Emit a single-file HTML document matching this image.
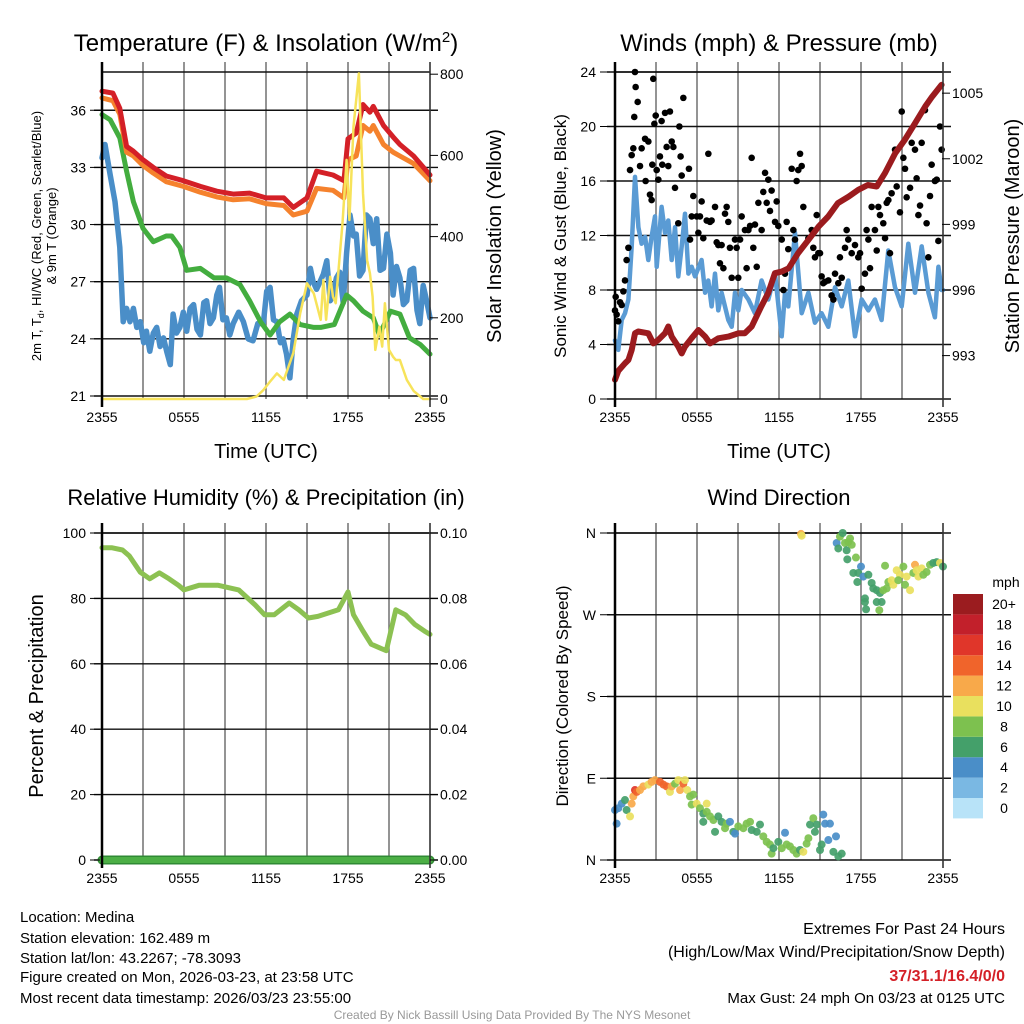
<!DOCTYPE html>
<html><head><meta charset="utf-8"><style>
body{margin:0;background:#fff;}
svg{display:block;font-family:"Liberation Sans",Arial,sans-serif;}
</style></head><body>
<svg id="chart" width="1024" height="1024" viewBox="0 0 1024 1024" xmlns="http://www.w3.org/2000/svg">
<g id="grid"></g><g id="marks"></g><g id="axes"></g><g id="labels"></g>
<text x="266" y="51" font-size="24" text-anchor="middle">Temperature (F) &amp; Insolation (W/m<tspan dy="-9" font-size="15">2</tspan><tspan dy="9">)</tspan></text>
<text x="779" y="51" font-size="24" text-anchor="middle">Winds (mph) &amp; Pressure (mb)</text>
<text x="266" y="505" font-size="22" text-anchor="middle">Relative Humidity (%) &amp; Precipitation (in)</text>
<text x="779" y="505" font-size="22" text-anchor="middle">Wind Direction</text>
<g font-size="13" text-anchor="middle">
<text transform="translate(41,236) rotate(-90)">2m T, T<tspan font-size="9" dy="3">d</tspan><tspan dy="-3">, HI/WC (Red, Green, Scarlet/Blue)</tspan></text>
<text transform="translate(56,236) rotate(-90)">&amp; 9m T (Orange)</text></g>
<text transform="translate(501,236) rotate(-90)" font-size="20" text-anchor="middle">Solar Insolation (Yellow)</text>
<text transform="translate(566,236) rotate(-90)" font-size="17" text-anchor="middle">Sonic Wind &amp; Gust (Blue, Black)</text>
<text transform="translate(1019,236) rotate(-90)" font-size="20" text-anchor="middle">Station Pressure (Maroon)</text>
<text transform="translate(43,696) rotate(-90)" font-size="20" text-anchor="middle">Percent &amp; Precipitation</text>
<text transform="translate(568,696) rotate(-90)" font-size="17" text-anchor="middle">Direction (Colored By Speed)</text>
<text x="266" y="458" font-size="20" text-anchor="middle">Time (UTC)</text>
<text x="779" y="458" font-size="20" text-anchor="middle">Time (UTC)</text>
<g font-size="15">
<text x="20" y="922">Location: Medina</text>
<text x="20" y="943">Station elevation: 162.489 m</text>
<text x="20" y="963">Station lat/lon: 43.2267; -78.3093</text>
<text x="20" y="982">Figure created on Mon, 2026-03-23, at 23:58 UTC</text>
<text x="20" y="1003">Most recent data timestamp: 2026/03/23 23:55:00</text></g>
<g font-size="16" text-anchor="end">
<text x="1005" y="934">Extremes For Past 24 Hours</text>
<text x="1005" y="957">(High/Low/Max Wind/Precipitation/Snow Depth)</text>
<text x="1005" y="981" fill="#d42027" font-weight="bold">37/31.1/16.4/0/0</text>
<text x="1005" y="1003" font-size="15">Max Gust: 24 mph On 03/23 at 0125 UTC</text></g>
<text x="512" y="1019" font-size="12" fill="#999" text-anchor="middle">Created By Nick Bassill Using Data Provided By The NYS Mesonet</text>
</svg>
<script>
// ---- Panel 1 data ----
const tempHours=[0,0.8,1.3,1.8,2.3,3.0,3.75,4.7,5.95,7.2,8.4,9.6,10.8,12.0,13.3,14.0,15.0,15.7,16.9,17.7,18.0,18.6,19.1,19.6,19.85,20.6,21.3,21.8,22.8,24];
const tempRed=[37.0,36.9,36.1,34.1,33.85,33.4,33.0,32.55,32.3,32.0,31.75,31.6,31.65,31.4,31.4,30.9,31.4,32.8,32.6,32.3,34.5,34.8,36.3,35.9,36.2,35.2,34.6,34.2,33.6,32.6];
const temp9m=[36.65,36.5,35.8,33.8,33.6,33.1,32.7,32.25,32.0,31.7,31.45,31.3,31.35,31.1,31.0,30.5,30.7,31.9,31.8,31.4,33.4,33.6,35.2,34.9,35.2,34.2,33.8,33.6,33.2,32.3];
const hiHours=[0,0.6,1.3,1.8,2.3,3.0,3.75,4.7,5.1,5.7,6.2,7.2,8.2,9.1,10.1,10.8,11.6,12.3,13.0,13.75,14.5,15.5,16.0,17.0,17.9,18.4,19.1,19.85,20.3,21.1,21.8,22.5,23.3,24];
const hiwc=[35.77,35.5,34.55,32.8,31.2,29.8,29.1,29.4,29.4,28.8,27.6,27.7,27.2,27.2,26.85,26.0,24.9,24.2,24.9,25.3,24.75,24.6,24.6,24.75,26.3,26.0,25.45,25.1,24.2,25.45,25.3,24.05,23.7,23.2];
const dewHours=[0,0.22,0.6,0.95,1.3,1.55,1.8,2.05,2.3,2.55,2.8,3.05,3.25,3.5,3.75,4.0,4.25,4.5,4.75,5.0,5.2,5.45,5.7,5.95,6.2,6.45,6.7,6.95,7.2,7.45,7.65,7.9,8.15,8.4,8.6,8.85,9.1,9.35,9.6,10.0,10.35,10.7,11.05,11.4,11.8,12.05,12.3,12.55,12.8,13.05,13.25,13.5,13.75,14.0,14.25,14.6,15.0,15.25,15.45,15.7,15.95,16.2,16.45,16.7,16.9,17.15,17.4,17.65,17.9,18.15,18.4,18.6,18.85,19.1,19.35,19.6,19.85,20.1,20.35,20.6,20.85,21.1,21.3,21.55,21.8,22.05,22.3,22.55,22.8,23.05,23.25,23.5,23.75,24];
const dewVals=[33.5,34.2,32.6,31.2,28.8,24.9,25.6,24.9,25.6,24.6,24.9,23.8,24.4,23.35,24.3,24.6,23.6,24.05,23.3,22.65,25.3,24.3,24.6,25.4,24.4,25.6,25.8,24.5,24.2,25.9,26.0,24.8,25.1,26.3,26.7,25.0,25.1,24.2,24.8,25.4,24.9,24.0,23.9,24.8,24.8,26.5,26.7,25.0,24.9,23.8,24.0,23.2,21.95,24.0,25.3,26.0,26.3,27.7,27.0,26.6,27.0,27.4,28.1,26.0,26.3,27.2,27.5,25.9,28.5,30.5,29.4,29.5,27.3,27.6,30.5,30.3,29.0,30.3,27.6,27.7,29.5,28.5,26.3,27.8,27.2,25.8,26.0,27.6,27.7,25.5,24.8,26.8,26.0,25.1];
const solarHours=[0,10.6,11.3,11.8,12.3,12.8,13.3,14.0,14.5,15.0,15.5,16.0,16.2,16.4,16.7,16.9,17.1,17.6,17.9,18.1,18.4,18.8,19.1,19.4,19.6,19.8,20.0,20.3,20.5,20.7,21.0,21.3,21.5,21.8,22.3,22.8,23.5,24];
const solarVals=[0,0,6,22,43,63,47,113,211,285,260,195,293,195,301,252,236,433,589,441,671,802,507,342,310,252,121,178,129,236,121,104,96,96,47,20,0,0];
// ---- Panel 2 data ----
const windHours=[0,0.24,0.49,0.73,0.98,1.22,1.46,1.71,1.95,2.2,2.44,2.68,2.93,3.05,3.41,3.66,3.9,4.15,4.39,4.63,4.88,5.12,5.37,5.61,5.85,6.34,6.59,6.83,7.07,7.32,7.56,7.8,8.29,8.54,8.78,9.02,9.27,9.76,10.24,10.73,11.22,11.71,12.2,12.44,12.68,13.17,13.66,14.15,14.63,15.12,15.61,16.1,16.59,17.07,17.56,18.05,18.54,19.02,19.51,20.0,20.49,20.98,21.46,21.95,22.44,22.93,23.41,23.66,23.9,24];
const windVals=[4.3,3.6,5.8,6.3,7.3,11.2,16.3,12.6,11.4,11.9,10.2,11.9,13.4,9.7,14.1,12.2,13.1,10.2,12.6,9.0,11.2,13.6,9.2,9.7,9.0,10.2,7.8,8.7,6.8,9.2,6.5,7.8,5.8,5.3,7.8,6.5,8.0,7.3,6.3,8.7,7.3,9.2,4.6,7.8,6.8,12.2,6.3,7.8,5.6,6.3,5.3,8.2,6.8,8.7,4.6,7.3,6.5,7.3,5.8,10.9,8.2,6.8,11.4,7.8,11.2,7.8,6.0,9.7,8.0,8.0];
const presHours=[0,0.24,0.73,0.98,1.22,1.46,1.7,2.44,2.8,3.17,3.66,3.9,4.15,4.63,4.88,5.12,5.6,6.1,6.6,6.95,7.56,8.3,9.02,9.5,10.0,10.7,11.2,11.7,12.2,12.7,13.4,14.15,14.9,15.6,16.3,17.1,17.8,18.5,19.15,19.75,20.5,21.2,21.95,22.7,23.2,23.9];
const presVals=[991.9,992.3,992.65,992.8,993.26,994.02,994.1,994.02,993.56,993.72,994.02,994.33,993.87,993.41,993.1,993.41,993.79,994.17,993.87,993.56,993.79,993.87,994.02,994.02,994.33,995.24,995.85,996.77,996.84,996.99,997.68,998.29,998.9,999.36,999.97,1000.27,1000.58,1000.8,1000.73,1001.34,1002.25,1002.86,1003.62,1004.39,1004.84,1005.38];
const gustHours=[0,0.05,0.12,0.24,0.37,0.49,0.61,0.73,0.85,0.98,1.1,1.22,1.34,1.41,1.46,1.51,1.66,1.83,1.95,2.2,2.24,2.44,2.56,2.68,2.73,2.8,2.88,2.98,3.05,3.17,3.29,3.41,3.46,3.66,3.78,3.9,4.02,4.15,4.27,4.39,4.63,4.71,4.8,4.88,5.0,5.41,5.49,5.61,5.73,5.98,6.1,6.22,6.34,6.46,6.71,6.83,6.95,7.07,7.32,7.44,7.56,7.68,7.8,7.93,8.05,8.17,8.29,8.41,8.54,8.78,8.9,9.02,9.15,9.27,9.51,9.63,9.76,9.88,10.0,10.12,10.24,10.37,10.49,10.73,10.85,10.98,11.1,11.22,11.34,11.46,11.71,11.83,11.95,12.2,12.32,12.44,12.56,12.68,12.93,13.05,13.17,13.29,13.41,13.54,13.66,13.78,14.15,14.39,14.51,14.63,14.76,14.88,15.0,15.12,15.24,15.37,15.61,15.85,15.98,16.1,16.34,16.46,16.59,16.83,16.95,17.07,17.32,17.56,17.8,17.93,18.05,18.29,18.41,18.54,18.66,18.78,19.02,19.15,19.27,19.39,19.63,19.76,19.88,20.0,20.12,20.24,20.49,20.61,20.85,20.98,21.1,21.22,21.34,21.59,21.71,21.95,22.07,22.2,22.32,22.44,22.68,22.8,22.93,23.05,23.17,23.41,23.54,23.66,23.78,23.9];
const gustVals=[6.5,7.5,6.2,5.7,7.1,6.9,7.9,8.7,10.2,11.1,16.8,17.9,18.4,20.7,24.0,22.9,21.8,17.1,18.4,19.1,16.0,18.9,15.0,14.6,17.2,23.5,20.2,20.8,16.8,16.1,17.8,20.4,17.2,21.0,18.5,17.1,21.1,18.9,18.5,15.5,12.9,20.0,17.8,16.4,22.1,16.9,11.7,13.4,14.9,13.4,12.2,13.4,14.5,11.8,13.1,18.0,13.0,13.1,14.1,11.5,11.3,9.96,11.3,9.6,13.6,14.1,13.0,11.1,8.9,11.7,11.1,8.9,11.7,13.4,12.4,9.6,12.4,12.7,17.7,11.1,12.8,9.7,14.4,12.4,15.2,16.6,14.4,16.1,13.8,15.3,13.0,14.5,12.7,11.7,8.0,9.2,13.0,11.0,16.9,12.4,11.7,16.0,16.8,18.0,17.1,14.1,11.8,12.4,11.1,10.4,13.5,10.7,10.7,9.0,8.5,8.6,8.7,7.6,7.3,9.2,8.5,10.4,8.9,11.1,12.4,11.7,10.7,11.3,10.4,10.7,8.1,9.2,12.4,11.7,9.6,14.1,12.4,10.9,14.1,13.5,12.9,11.8,14.4,14.6,10.7,15.1,18.3,15.6,13.7,21.1,17.7,16.9,14.8,15.5,18.8,18.3,16.2,13.5,14.2,18.8,21.2,12.9,10.4,14.9,17.2,16.0,16.1,11.6,20.0,18.3,16.6];
// ---- Panel 3 data ----
const rhHours=[0,0.7,1.5,2.0,2.8,3.5,4.2,4.9,5.6,6.0,7.1,8.5,10.0,11.2,11.9,12.6,13.7,14.4,15.1,15.8,17.3,18.0,18.4,19.1,19.7,20.8,21.5,22.2,22.9,23.6,24];
const rhVals=[95.5,95.5,94.8,93,88,86,87.8,86,84,82.6,84,84,82.6,78,75,75,78.6,76.5,74,74.5,76.5,82,75,70,66,64,76.5,75,72,70,69];
const precipHours=[0,24];
const precipVals=[0,0];
// ---- Panel 4 data ----
const dirHours=[0,0.24,0.12,0.49,0.73,0.85,1.1,1.22,1.34,1.46,1.59,1.83,2.07,2.44,2.68,2.93,3.29,3.54,3.78,4.02,4.15,4.39,4.63,4.76,5.0,5.12,5.29,5.49,5.73,5.61,5.98,6.22,6.46,6.71,6.71,6.46,6.95,7.2,7.32,7.56,7.8,8.17,8.05,8.41,8.66,8.78,9.02,9.39,9.63,9.88,10.0,10.37,10.61,10.85,11.1,11.34,11.46,11.59,11.95,12.2,12.44,12.56,12.8,13.05,13.29,13.54,13.78,14.02,14.15,14.27,14.51,14.63,14.76,15.0,15.12,15.24,15.37,15.61,15.73,15.98,16.17,16.34,16.59,
13.61,13.66,16.22,16.46,16.66,16.83,17.07,16.34,16.95,17.2,17.32,17.0,17.63,18.0,17.44,17.8,18.17,18.54,17.73,18.78,18.9,19.15,18.29,18.29,19.39,19.63,19.15,19.51,18.37,19.34,19.76,20.0,19.88,20.24,20.37,20.61,20.85,21.1,21.22,21.34,21.59,21.83,21.95,22.2,22.44,22.56,22.8,23.05,23.29,23.54,23.78,24.0,22.07,20.73];
const dirDeg=[55,57,40,62,66,55,48,62,70,77,75,77,81,83,86,88,86,83,81,75,81,84,88,77,84,88,77,70,72,61,62,57,51,62,53,42,48,44,31,48,42,40,35,42,31,29,37,35,40,42,33,31,39,26,20,17,7,13,20,13,30,17,15,11,7,11,9,18,24,39,46,31,39,11,17,50,40,22,40,9,26,4,7,
359,357,349,356,360,349,350,343,341,354,347,331,333,323,316,316,312,314,306,305,299,297,288,284,294,297,284,284,276,275,324,306,299,308,303,319,314,323,303,312,297,316,325,312,321,314,317,325,327,328,327,323,319,308];
const dirSpeed=[4,4,4,4,6,6,10,12,12,16,14,12,12,10,12,12,14,14,14,10,12,8,10,12,14,10,10,8,8,8,10,8,6,10,8,6,8,8,6,6,6,8,8,4,6,4,8,8,8,8,6,6,6,8,8,8,8,6,6,8,4,8,8,8,8,6,10,8,8,6,8,6,6,6,6,4,4,4,4,6,4,6,6,
12,10,4,8,6,8,8,6,6,8,8,6,8,4,6,6,4,6,6,6,6,6,6,6,6,8,6,6,6,8,8,8,8,10,10,10,10,8,8,10,10,8,12,10,10,8,8,8,6,6,10,6,10,8];
const speedColors=["#b8e3f8","#7ab8e3","#4a8ec8","#44a06a","#7dc14f","#e9e05e","#f8a94a","#f0642b","#e0362a","#c2202b","#9b1c1f"];
const speedLabels=["0","2","4","6","8","10","12","14","16","18","20+"];
const xTickHours=[0,6,12,18,24];
const xTickLabels=["2355","0555","1155","1755","2355"];

const NS="http://www.w3.org/2000/svg";
const G={grid:document.getElementById('grid'),marks:document.getElementById('marks'),axes:document.getElementById('axes'),labels:document.getElementById('labels')};
function mk(parent,tag,attrs){const e=document.createElementNS(NS,tag);for(const k in attrs)e.setAttribute(k,attrs[k]);parent.appendChild(e);return e;}
const P1={x0:102,x1:430,y0:72,y1:399},P2={x0:615,x1:943,y0:72,y1:399},P3={x0:102,x1:430,y0:533,y1:860},P4={x0:615,x1:943,y0:533,y1:860};
function xs(P,h){return P.x0+h*(P.x1-P.x0)/24;}
const y1L=v=>396-(v-21)*19.05, y1R=w=>399-w*0.406;
const y2L=v=>399-v*13.625, y2R=p=>355.6-(p-993)*21.87;
const y3L=v=>860-v*3.27, y3R=v=>860-v*3270;
const y4=d=>860-d/360*327;

function panelFrame(P,name,hLines){
  for(let k=1;k<8;k++){const x=xs(P,k*3);
    const l=mk(G.grid,'line',{x1:x,x2:x,y1:P.y0-10,y2:P.y1,stroke:'#666','stroke-width':1.4});
    
    }
  hLines.forEach(y=>{const l=mk(G.grid,'line',{x1:P.x0-8,x2:P.x1+8,y1:y,y2:y,stroke:'#111','stroke-width':1.4});
    
    });
  const top=mk(G.grid,'line',{x1:P.x0,x2:P.x1,y1:P.y0,y2:P.y0,stroke:'#111','stroke-width':1.4});
  
  
  const ax=mk(G.axes,'line',{x1:P.x0,x2:P.x0,y1:P.y0-10,y2:P.y1+8,stroke:'#000','stroke-width':2.5});
  
  
  const ax2=mk(G.axes,'line',{x1:P.x1,x2:P.x1,y1:P.y0-10,y2:P.y1+8,stroke:'#333','stroke-width':1.6});
  
  
  xTickHours.forEach((h,i)=>{const t=mk(G.labels,'text',{x:xs(P,h),y:P.y1+23,'font-size':14,'text-anchor':'middle'});t.textContent=xTickLabels[i];
    
    });
}
function yLabels(vals,fn,x,anchor,name,fmt){vals.forEach(v=>{const y=fn(v);
  const t=mk(G.labels,'text',{x:x,y:y+5,'font-size':14,'text-anchor':anchor});t.textContent=fmt?fmt(v):v;
  
  
  const tk=mk(G.axes,'line',{x1:anchor==='end'?x+4:x-10,x2:anchor==='end'?x+14:x-2,y1:y,y2:y,stroke:'#000','stroke-width':1});
  
  });}
function path(P,hours,vals,fn,color,w,name,parent){let d='';hours.forEach((h,i)=>{d+=(i?'L':'M')+xs(P,h).toFixed(1)+','+fn(vals[i]).toFixed(1);});
  const p=mk(parent||G.marks,'path',{d:d,fill:'none',stroke:color,'stroke-width':w,'stroke-linejoin':'round','stroke-linecap':'round'});
  
  return p;}

// Panel 1
const t1=[36,33,30,27,24,21];
panelFrame(P1,'temperature-panel',t1.map(y1L));
yLabels(t1,y1L,86,'end','temperature-y-tick-label');
yLabels([0,200,400,600,800],y1R,440,'start','insolation-y-tick-label');
path(P1,dewHours,dewVals,y1L,'#4a8ec8',5.5,'dewpoint-line');
path(P1,hiHours,hiwc,y1L,'#43ad3f',5,'heat-index-line');
path(P1,tempHours,temp9m,y1L,'#f5822d',5,'temp-9m-line');
path(P1,tempHours,tempRed,y1L,'#d42027',5,'temp-2m-line');
path(P1,solarHours,solarVals,y1R,'#f7e35a',2.5,'insolation-line');
// Panel 2
const t2=[0,4,8,12,16,20,24];
panelFrame(P2,'winds-panel',t2.map(y2L));
yLabels(t2,y2L,596,'end','wind-y-tick-label');
yLabels([993,996,999,1002,1005],y2R,952,'start','pressure-y-tick-label');
path(P2,windHours,windVals,y2L,'#5a9bd4',4.5,'sonic-wind-line');
gustHours.forEach((h,i)=>{const c=mk(G.marks,'circle',{cx:xs(P2,h),cy:y2L(gustVals[i]),r:3.3,fill:'#000'});
  
  });
path(P2,presHours,presVals,y2R,'#9b1b1e',6,'pressure-line');
// Panel 3
const t3=[0,20,40,60,80,100];
panelFrame(P3,'humidity-panel',t3.map(y3L));
yLabels(t3,y3L,86,'end','humidity-y-tick-label');
yLabels([0,0.02,0.04,0.06,0.08,0.10],y3R,440,'start','precip-y-tick-label',v=>v.toFixed(2));
path(P3,rhHours,rhVals,y3L,'#8cc152',5,'humidity-line');
path(P3,precipHours,precipVals,y3R,'#2f8a34',9,'precip-line-outline');
path(P3,precipHours,precipVals,y3R,'#4caf45',6,'precipitation-line');
// Panel 4
const t4=[0,90,180,270,360], t4l=['N','E','S','W','N'];
panelFrame(P4,'direction-panel',t4.map(y4));
yLabels(t4,y4,596,'end','direction-y-tick-label',v=>t4l[t4.indexOf(v)]);
dirHours.forEach((h,i)=>{const c=mk(G.marks,'circle',{cx:xs(P4,h),cy:y4(dirDeg[i]),r:4,fill:speedColors[Math.min(10,Math.floor(dirSpeed[i]/2))],'fill-opacity':0.92});
  
  });
// colorbar
speedColors.forEach((c,i)=>{const y=798-i*20.4;
  const r=mk(G.marks,'rect',{x:953,y:y,width:30,height:20.4,fill:c});
  
  
  const t=mk(G.labels,'text',{x:1004,y:y+15,'font-size':14,'text-anchor':'middle'});t.textContent=speedLabels[i];
  
  });
const u=mk(G.labels,'text',{x:1006,y:587,'font-size':14,'text-anchor':'middle'});u.textContent='mph';


</script>
</body></html>
